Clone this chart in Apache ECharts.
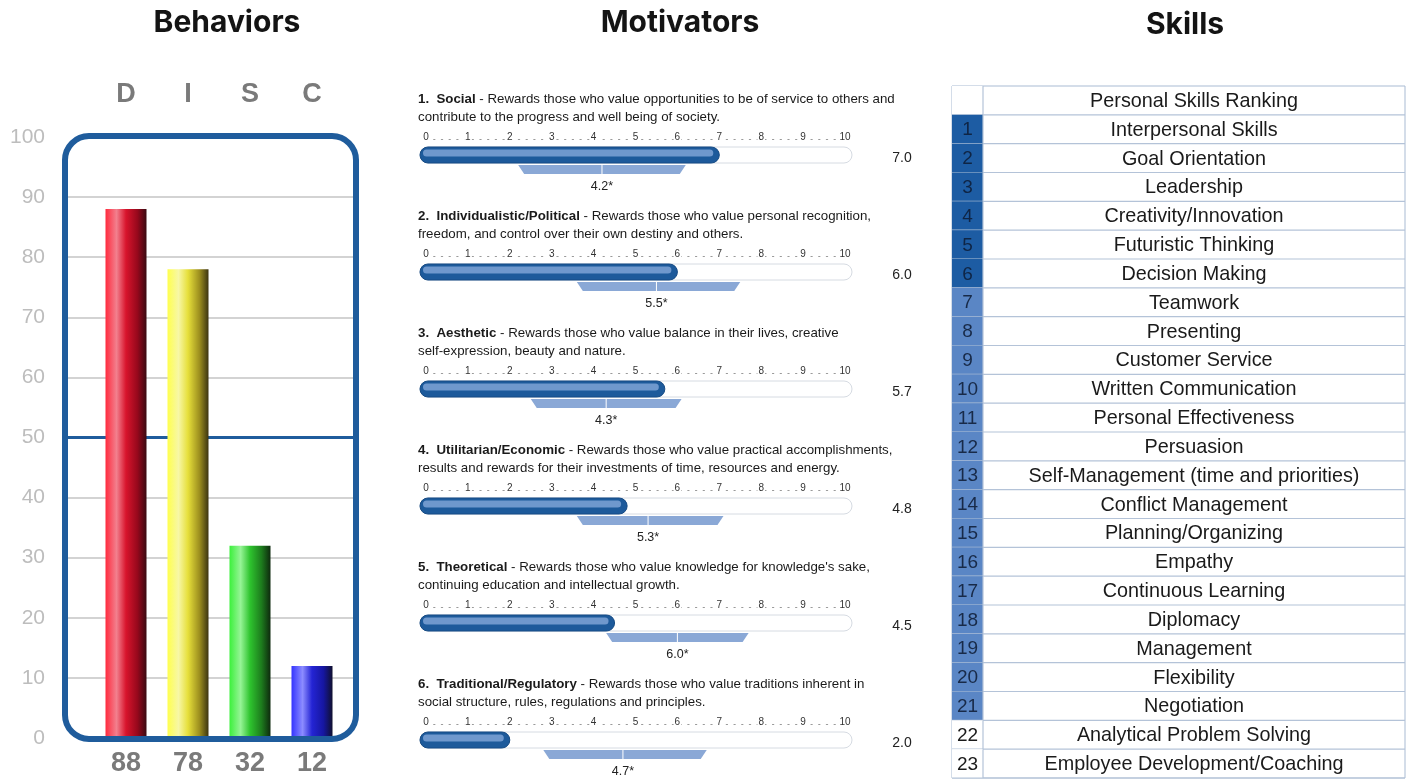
<!DOCTYPE html>
<html>
<head>
<meta charset="utf-8">
<title>Behaviors, Motivators and Skills</title>
<script src="https://cdn.jsdelivr.net/npm/echarts/dist/echarts.min.js"></script>
<style>
  html, body { margin: 0; padding: 0; background: #ffffff; }
  #main { width: 1407px; height: 779px; }
</style>
</head>
<body>
<div id="main"></div>
<script>
// ---- Behaviors (DISC) ----
const discLetters = ['D', 'I', 'S', 'C'];
const discScores = [88, 78, 32, 12];
const discMidline = 50;

// ---- Motivators ----
const motivatorNames = ['Social', 'Individualistic/Political', 'Aesthetic', 'Utilitarian/Economic', 'Theoretical', 'Traditional/Regulatory'];
const motivatorLine1 = [
  ' - Rewards those who value opportunities to be of service to others and',
  ' - Rewards those who value personal recognition,',
  ' - Rewards those who value balance in their lives, creative',
  ' - Rewards those who value practical accomplishments,',
  " - Rewards those who value knowledge for knowledge's sake,",
  ' - Rewards those who value traditions inherent in'
];
const motivatorLine2 = [
  'contribute to the progress and well being of society.',
  'freedom, and control over their own destiny and others.',
  'self-expression, beauty and nature.',
  'results and rewards for their investments of time, resources and energy.',
  'continuing education and intellectual growth.',
  'social structure, rules, regulations and principles.'
];
const motivatorScores = [7.0, 6.0, 5.7, 4.8, 4.5, 2.0];
const motivatorAverages = [4.2, 5.5, 4.3, 5.3, 6.0, 4.7];
const motivatorRangeLow = [2.2, 3.6, 2.5, 3.6, 4.3, 2.8];
const motivatorRangeHigh = [6.2, 7.5, 6.1, 7.1, 7.7, 6.7];

// ---- Skills ----
const skillsHeader = 'Personal Skills Ranking';
const skillNames = [
  'Interpersonal Skills', 'Goal Orientation', 'Leadership', 'Creativity/Innovation',
  'Futuristic Thinking', 'Decision Making', 'Teamwork', 'Presenting', 'Customer Service',
  'Written Communication', 'Personal Effectiveness', 'Persuasion',
  'Self-Management (time and priorities)', 'Conflict Management', 'Planning/Organizing',
  'Empathy', 'Continuous Learning', 'Diplomacy', 'Management', 'Flexibility',
  'Negotiation', 'Analytical Problem Solving', 'Employee Development/Coaching'
];
// 1 = strongest band, 2 = middle band, 3 = unshaded
const skillBand = [1, 1, 1, 1, 1, 1, 2, 2, 2, 2, 2, 2, 2, 2, 2, 2, 2, 2, 2, 2, 2, 3, 3];

const SANS = '"Liberation Sans", Arial, Helvetica, sans-serif';
const HEAD = 'Inter, "Noto Sans", sans-serif';
const BLUE = '#1f5c9c';

const chart = echarts.init(document.getElementById('main'), null, { renderer: 'canvas' });

const grids = [];
const xAxes = [];
const yAxes = [];
const series = [];
const graphics = [];

// Section titles
[['Behaviors', 227, 23], ['Motivators', 680, 23], ['Skills', 1185, 25]].forEach(function (t) {
  graphics.push({
    type: 'text', x: t[1], y: t[2], z: 10,
    style: { text: t[0], align: 'center', verticalAlign: 'middle', font: '700 30px ' + HEAD, fill: '#141414' }
  });
});

// ---------- Behaviors: background grid with scale and gridlines ----------
grids.push({ left: 68, right: 1052, top: 137, bottom: 41 });
xAxes.push({ gridIndex: 0, type: 'value', min: 0, max: 1, show: false });
yAxes.push({
  gridIndex: 0, type: 'value', min: 0, max: 100, interval: 10,
  axisLine: { show: false }, axisTick: { show: false },
  axisLabel: { margin: 23, fontSize: 21, color: '#bdbdbd', fontFamily: SANS },
  splitLine: { show: true, showMinLine: false, showMaxLine: false, lineStyle: { color: '#d3d3d3', width: 2 } }
});
series.push({
  type: 'line', xAxisIndex: 0, yAxisIndex: 0, symbol: 'none', silent: true, z: 1,
  lineStyle: { color: BLUE, width: 3 },
  data: [[0, discMidline], [1, discMidline]]
});

// ---------- Behaviors: bars ----------
grids.push({ left: 95, right: 1064, top: 137, bottom: 41 });
xAxes.push({
  gridIndex: 1, type: 'category', data: discLetters, position: 'bottom',
  axisLine: { show: false }, axisTick: { show: false },
  axisLabel: {
    margin: 12, fontSize: 27, fontWeight: 'bold', color: '#7a7a7a', fontFamily: SANS,
    formatter: function (v, i) { return String(discScores[i]); }
  }
});
xAxes.push({
  gridIndex: 1, type: 'category', data: discLetters, position: 'top',
  axisLine: { show: false }, axisTick: { show: false },
  axisLabel: { margin: 29, fontSize: 27, fontWeight: 'bold', color: '#7a7a7a', fontFamily: SANS }
});
yAxes.push({ gridIndex: 1, type: 'value', min: 0, max: 100, show: false, splitLine: { show: false } });

const barStops = [
  ['#ff2b3e', '#f2808e', '#d8142c', '#96081c', '#3a0a12'],
  ['#ffff4e', '#f7f7a6', '#e6df3a', '#9c8e1e', '#3c3410'],
  ['#3cf03c', '#96f496', '#2ec42e', '#1d7c1d', '#0e2a0e'],
  ['#3434ff', '#8c8cff', '#2424d4', '#1616a0', '#10102e']
];
function tube(c) {
  return new echarts.graphic.LinearGradient(0, 0, 1, 0, [
    { offset: 0, color: c[0] }, { offset: 0.27, color: c[1] }, { offset: 0.5, color: c[2] },
    { offset: 0.78, color: c[3] }, { offset: 1, color: c[4] }
  ]);
}
series.push({
  type: 'bar', xAxisIndex: 1, yAxisIndex: 1, barWidth: 41, z: 3,
  data: discScores.map(function (v, i) { return { value: v, itemStyle: { color: tube(barStops[i]) } }; })
});

// Rounded frame around the DISC plot
graphics.push({
  type: 'rect', z: 100, silent: true,
  shape: { x: 65, y: 136, width: 291, height: 603, r: 24 },
  style: { fill: 'none', stroke: BLUE, lineWidth: 6 }
});

// ---------- Motivators ----------
motivatorNames.forEach(function (name, k) {
  const dy = 117 * k;
  graphics.push({
    type: 'text', x: 418, y: 99 + dy,
    style: {
      text: '{b|' + (k + 1) + '.  ' + name + '}{r|' + motivatorLine1[k] + '}',
      verticalAlign: 'middle',
      rich: {
        b: { font: 'bold 13.3px ' + SANS, fill: '#1a1a1a' },
        r: { font: '13.3px ' + SANS, fill: '#1a1a1a' }
      }
    }
  });
  graphics.push({
    type: 'text', x: 418, y: 117 + dy,
    style: { text: motivatorLine2[k], verticalAlign: 'middle', font: '13.3px ' + SANS, fill: '#1a1a1a' }
  });

  const gi = grids.length;
  grids.push({ left: 426, width: 419, top: 139 + dy, height: 40 });
  xAxes.push({
    gridIndex: gi, type: 'value', min: 0, max: 10, interval: 1, position: 'top',
    axisLine: { show: true, onZero: false, lineStyle: { color: '#9a9a9a', width: 1.2, type: [1.2, 6.5] } },
    axisTick: { show: false }, splitLine: { show: false },
    axisLabel: {
      margin: 2, verticalAlign: 'middle', fontSize: 10, color: '#333', fontFamily: SANS,
      backgroundColor: '#ffffff', padding: [0, 1]
    }
  });
  yAxes.push({ gridIndex: gi, type: 'value', min: 0, max: 1, show: false, splitLine: { show: false } });

  series.push({
    type: 'custom', xAxisIndex: xAxes.length - 1, yAxisIndex: yAxes.length - 1, z: 5,
    data: [[motivatorScores[k], 0, motivatorAverages[k], motivatorRangeLow[k], motivatorRangeHigh[k]]],
    encode: { x: 0, y: 1 },
    renderItem: function (params, api) {
      const cs = params.coordSys;
      const top = cs.y;
      const x0 = api.coord([0, 0])[0];
      const x10 = api.coord([10, 0])[0];
      const xs = api.coord([api.value(0), 0])[0];
      const xa = api.coord([api.value(2), 0])[0];
      const xl = api.coord([api.value(3), 0])[0];
      const xh = api.coord([api.value(4), 0])[0];
      const barY = top + 8, barH = 16;
      const trapTop = top + 26, trapBot = top + 35;
      return {
        type: 'group',
        children: [
          { type: 'rect', shape: { x: x0 - 6, y: barY, width: x10 - x0 + 13, height: barH, r: 8 },
            style: { fill: '#ffffff', stroke: '#d6dbe2', lineWidth: 1 } },
          { type: 'rect', shape: { x: x0 - 6, y: barY, width: xs - x0 + 6, height: barH, r: 8 },
            style: { fill: '#1d5a9b', stroke: '#174b84', lineWidth: 1 } },
          { type: 'rect', shape: { x: x0 - 3, y: barY + 2.5, width: Math.max(xs - x0 - 3, 2), height: 7, r: 3.5 },
            style: { fill: '#6f98cd' } },
          { type: 'polygon',
            shape: { points: [[xl, trapTop], [xh, trapTop], [xh - 6, trapBot], [xl + 6, trapBot]] },
            style: { fill: '#8aa8d6' } },
          { type: 'line', shape: { x1: xa, y1: trapTop, x2: xa, y2: trapBot },
            style: { stroke: '#ffffff', lineWidth: 1 } },
          { type: 'text', style: { text: api.value(2).toFixed(1) + '*', x: xa, y: top + 48,
            align: 'center', verticalAlign: 'middle', font: '12.5px ' + SANS, fill: '#222' } },
          { type: 'text', style: { text: api.value(0).toFixed(1), x: 902, y: top + 19,
            align: 'center', verticalAlign: 'middle', font: '14px ' + SANS, fill: '#222' } }
        ]
      };
    }
  });
});

// ---------- Skills ranking table ----------
const tableRows = [skillsHeader].concat(skillNames);
const tgi = grids.length;
grids.push({ left: 952, right: 2, top: 86, bottom: 1, show: true, borderColor: '#a9bbd3', borderWidth: 1, backgroundColor: '#ffffff' });
xAxes.push({ gridIndex: tgi, type: 'value', min: 0, max: 1, show: false });
yAxes.push({ gridIndex: tgi, type: 'category', data: tableRows, inverse: true, show: false });
const bandFill = { 1: '#1d5ca3', 2: '#5a86c5', 3: '#ffffff' };
const bandText = { 1: '#0f2545', 2: '#182a48', 3: '#1a1a1a' };
series.push({
  type: 'custom', xAxisIndex: xAxes.length - 1, yAxisIndex: yAxes.length - 1, z: 5,
  data: tableRows.map(function (name, i) { return [0, i]; }),
  encode: { x: 0, y: 1 },
  renderItem: function (params, api) {
    const cs = params.coordSys;
    const i = params.dataIndex;
    const cy = api.coord([0, i])[1];
    const h = api.size([0, 1])[1];
    const numW = 31;
    const band = i === 0 ? 3 : skillBand[i - 1];
    const children = [
      { type: 'rect', shape: { x: cs.x, y: cy - h / 2, width: numW, height: h },
        style: { fill: bandFill[band] } },
      { type: 'line', shape: { x1: cs.x, y1: cy + h / 2, x2: cs.x + cs.width, y2: cy + h / 2 },
        style: { stroke: '#b4c3d8', lineWidth: 1.2 } },
      { type: 'line', shape: { x1: cs.x + numW, y1: cy - h / 2, x2: cs.x + numW, y2: cy + h / 2 },
        style: { stroke: '#b4c3d8', lineWidth: 1.2 } },
      { type: 'text', style: { text: tableRows[i], x: cs.x + numW + (cs.width - numW) / 2, y: cy + 1,
        align: 'center', verticalAlign: 'middle', font: '19.8px ' + SANS, fill: '#1a1a1a' } }
    ];
    if (i > 0) {
      children.push({ type: 'text', style: { text: String(i), x: cs.x + numW / 2, y: cy + 1,
        align: 'center', verticalAlign: 'middle', font: '19px ' + SANS, fill: bandText[band] } });
    }
    return { type: 'group', children: children };
  }
});

chart.setOption({
  animation: false,
  backgroundColor: '#ffffff',
  grid: grids,
  xAxis: xAxes,
  yAxis: yAxes,
  series: series,
  graphic: { elements: graphics }
});
</script>
</body>
</html>
